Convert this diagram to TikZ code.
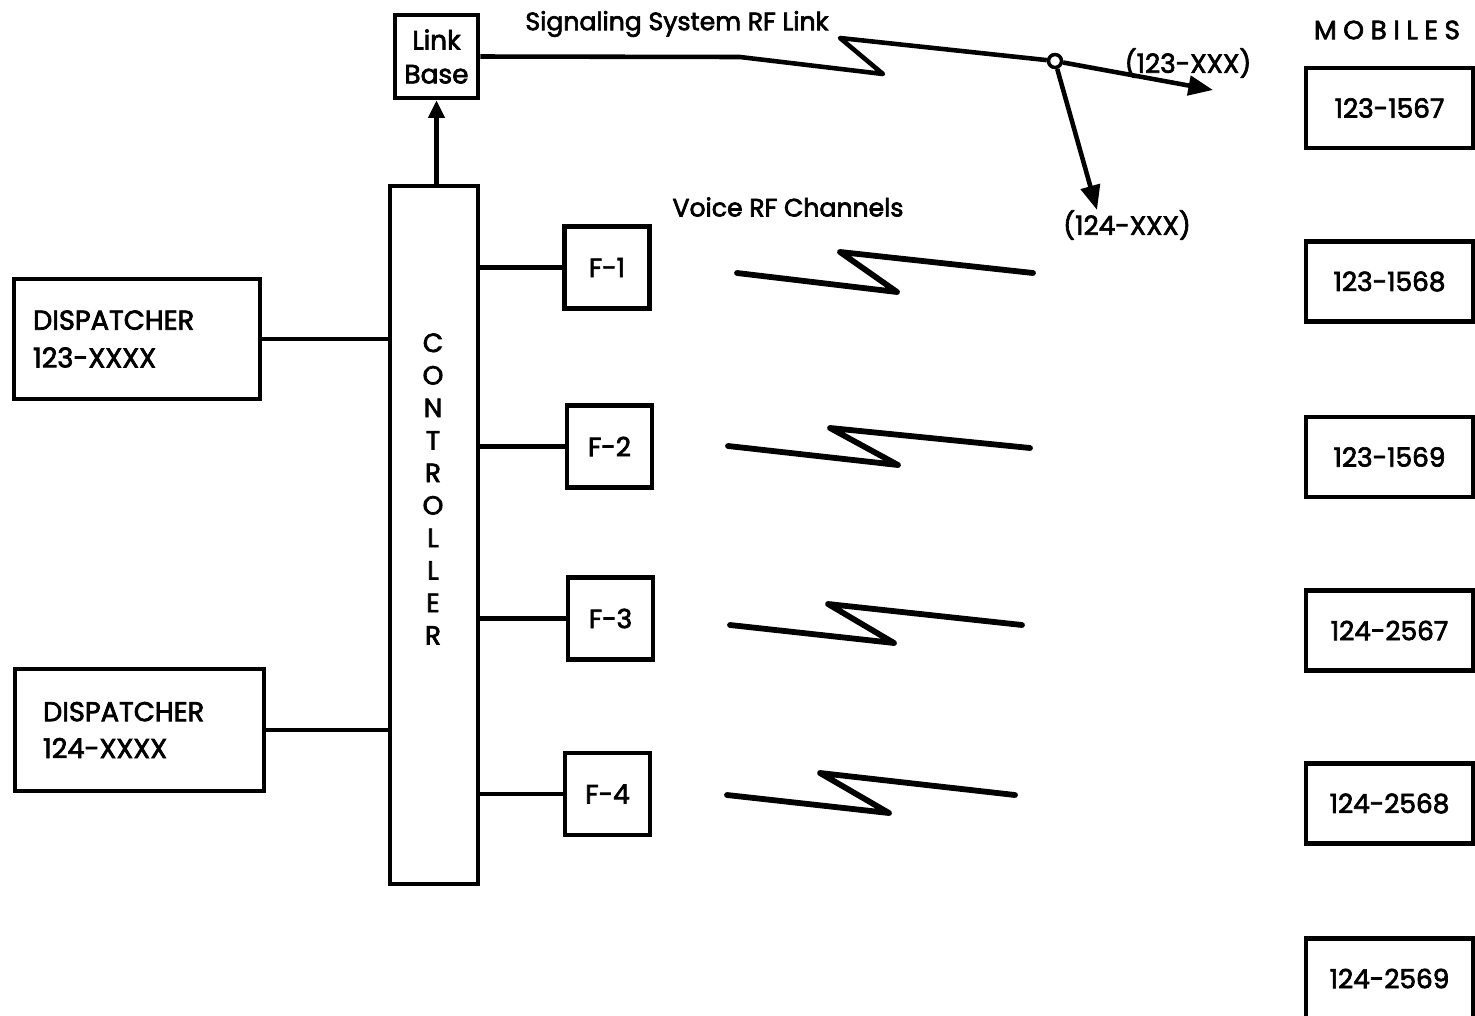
\documentclass[tikz,border=0pt]{standalone}
\usepackage{fontspec}
\setmainfont{Poppins}[FakeBold=2.6]
\newfontfamily\spacedfont{Poppins}[LetterSpace=25,FakeBold=2.6]
\usetikzlibrary{arrows.meta}
\begin{document}
\begin{tikzpicture}[x=0.02cm,y=-0.02cm,
  box/.style={draw, line width=2.6pt, inner sep=0pt},
  conn/.style={line width=2.6pt, line join=round},
  zig/.style={line width=3.3pt, line cap=round, line join=round},
  txt/.style={inner sep=0pt, font=\fontsize{14.3}{18}\selectfont},
  fbox/.style={box, minimum width=1.7cm, minimum height=1.64cm, font=\fontsize{15}{18}\selectfont},
  mbox/.style={box, minimum width=3.34cm, minimum height=1.6cm, font=\fontsize{15}{18}\selectfont},
  arr/.style={-{Triangle[length=14pt,width=11pt]}}]
\useasboundingbox (0,0) rectangle (1475,1015);
\clip (0,0) rectangle (1475,1015);
\fill[white] (0,0) rectangle (1475,1015);

% boxes
\node[box, minimum width=1.66cm, minimum height=1.66cm, align=center,
      font=\fontsize{15}{19.3}\selectfont] (linkbase) at (436.5,56.5) {Link\\Base};
\node[box, minimum width=1.76cm, minimum height=13.96cm] (ctrl) at (434,535) {};
\node[txt, align=center, font=\fontsize{15}{18.5}\selectfont] (ctrltext) at (433,489)
  {C\\O\\N\\T\\R\\O\\L\\L\\E\\R};

\node[box, minimum height=2.4cm, text width=4.16cm, inner xsep=0.38cm, align=left,
      font=\fontsize{15.5}{21.5}\selectfont] (disp1) at (137,339) {DISPATCHER\\123-XXXX};
\node[box, minimum height=2.44cm, text width=3.86cm, inner xsep=0.56cm, align=left,
      font=\fontsize{15.5}{21}\selectfont] (disp2) at (139.5,730) {DISPATCHER\\124-XXXX};

\node[fbox] (f1) at (607,267.5) {F-1};
\node[fbox] (f2) at (609.5,446.5) {F-2};
\node[fbox] (f3) at (610.5,618.5) {F-3};
\node[fbox] (f4) at (607.5,794) {F-4};

\node[txt, font=\fontsize{15}{18}\spacedfont] (mobiles) at (1387,30) {MOBILES};
\node[mbox] (m1) at (1389.5,108) {123-1567};
\node[mbox] (m2) at (1389.5,281.5) {123-1568};
\node[mbox] (m3) at (1389.5,457) {123-1569};
\node[mbox] (m4) at (1389.5,630.5) {124-2567};
\node[mbox] (m5) at (1389.5,803.5) {124-2568};
\node[mbox] (m6) at (1389.5,978.5) {124-2569};

% connectors
\draw[conn] (disp1.east) -- (disp1.east -| ctrl.west);
\draw[conn] (disp2.east) -- (disp2.east -| ctrl.west);
\draw[conn] (ctrl.east |- f1.west) -- (f1.west);
\draw[conn] (ctrl.east |- f2.west) -- (f2.west);
\draw[conn] (ctrl.east |- f3.west) -- (f3.west);
\draw[conn] (ctrl.east |- f4.west) -- (f4.west);
\draw[conn, -{Triangle[length=10pt,width=9pt]}] (ctrl.north -| linkbase.south) -- (linkbase.south);

% signaling link
\node[circle, draw, fill=white, line width=2pt, minimum size=0.26cm, inner sep=0pt] (junc) at (1055,61) {};
\draw[conn] (linkbase.east) -- (740,57) -- (883,74) -- (840,38) -- (junc);
\coordinate (a123) at (1213,90);
\coordinate (a124) at (1097,210);
\draw[conn, arr] (junc) -- (a123);
\draw[conn, arr] (junc) -- (a124);

% labels
\node[txt] (sig) at (677,24) {Signaling System RF Link};
\node[txt] (voice) at (788,207) {Voice RF Channels};
\node[txt, font=\fontsize{15}{18}\selectfont] (l123) at (1188,63) {(123-XXX)};
\node[txt, font=\fontsize{15}{18}\selectfont] (l124) at (1127,225) {(124-XXX)};

% voice RF zigzags
\draw[zig] (737,273) -- (897,292) -- (840,252) -- (1033,273);
\draw[zig] (728,446) -- (898,465) -- (830,428) -- (1030,448);
\draw[zig] (730,625) -- (894,643) -- (828,604) -- (1022,625);
\draw[zig] (727,795) -- (889,813) -- (820,773) -- (1015,795);
\end{tikzpicture}
\end{document}
